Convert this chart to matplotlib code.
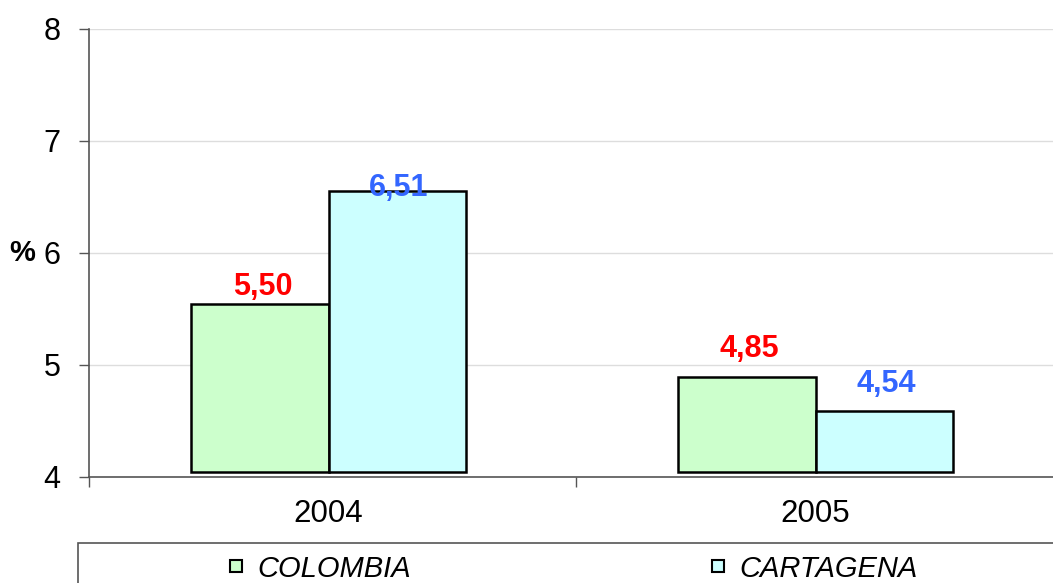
import numpy as np
import matplotlib
matplotlib.use("Agg")
import matplotlib.pyplot as plt
from matplotlib.lines import Line2D
from matplotlib.patches import Rectangle

# datos
years = ["2004", "2005"]
series = ["COLOMBIA", "CARTAGENA"]
colombia = [5.50, 4.85]
cartagena = [6.51, 4.54]
labels_colombia = ["5,50", "4,85"]
labels_cartagena = ["6,51", "4,54"]

fill_colors = ["#CCFFCC", "#CCFFFF"]
text_colors = ["#FF0000", "#3366FF"]

plt.rcParams["font.family"] = ["Liberation Sans", "DejaVu Sans"]

fig = plt.figure(figsize=(10.53, 5.83), dpi=100)
W, H = 1053, 583
ax = fig.add_axes([89 / W, 1 - 477 / H, (1063 - 89) / W, (477 - 29) / H])

x = np.arange(len(years))
width = 0.283
shift = -0.008  # Excel desplaza un poco el grupo a la izquierda
lift = 0.045    # y dibuja las barras ligeramente por encima del eje

ax.bar(x + shift - width / 2, np.array(colombia) - 4, width, bottom=4 + lift,
       color=fill_colors[0], edgecolor="black", linewidth=1.8, zorder=3)
ax.bar(x + shift + width / 2, np.array(cartagena) - 4, width, bottom=4 + lift,
       color=fill_colors[1], edgecolor="black", linewidth=1.8, zorder=3)

# etiquetas de datos (desplazamiento en puntos, como en el original)
offs_col = [1.5, 9]
offs_car = [-8.5, 9]
for i in range(len(years)):
    ax.annotate(labels_colombia[i], (x[i] + shift - width / 2, colombia[i] + lift),
                xytext=(2, offs_col[i]), textcoords="offset points",
                ha="center", va="bottom", fontsize=22, fontweight="bold",
                color=text_colors[0], zorder=4)
    ax.annotate(labels_cartagena[i], (x[i] + shift + width / 2, cartagena[i] + lift),
                xytext=(1, offs_car[i]), textcoords="offset points",
                ha="center", va="bottom", fontsize=22, fontweight="bold",
                color=text_colors[1], zorder=4)

ax.set_ylim(4, 8)
ax.set_xlim(-0.5, 1.5)
ax.set_yticks([4, 5, 6, 7, 8])
ax.set_xticks(x + shift)
ax.set_xticklabels(years)
ax.set_xticks([-0.5, 0.5, 1.5], minor=True)
ax.tick_params(axis="x", which="major", length=0, pad=16, labelsize=22.5)
ax.tick_params(axis="x", which="minor", length=7, width=1, color="#555555")
ax.tick_params(axis="y", length=7, width=1, color="#555555", pad=13.5, labelsize=22)
ax.yaxis.grid(True, color="#DDDDDD", linewidth=1, zorder=0)
ax.set_axisbelow(True)

for side in ["top", "right"]:
    ax.spines[side].set_visible(False)
for side in ["left", "bottom"]:
    ax.spines[side].set_color("#555555")
    ax.spines[side].set_linewidth(1.2)

ax.annotate("%", (0, 6), xycoords=("axes fraction", "data"),
            xytext=(-48, 0), textcoords="offset points",
            ha="center", va="center", fontsize=21, fontweight="bold")

# leyenda dibujada a mano (cortada por el borde, como en la imagen)
fig.add_artist(Rectangle((78 / W, -0.1), 1.2, 0.1 + 1 - 543 / H,
                         transform=fig.transFigure, fill=False,
                         edgecolor="#555555", linewidth=1.2, clip_on=False))
legend_pos = [236, 718]
for i, name in enumerate(series):
    fig.add_artist(Line2D([legend_pos[i] / W], [1 - 566 / H], marker="s",
                          markersize=8, markerfacecolor=fill_colors[i],
                          markeredgecolor="black", markeredgewidth=1.5,
                          linestyle="none", transform=fig.transFigure))
    fig.text((legend_pos[i] + 21) / W, 1 - 569 / H, name, fontsize=21,
             style="italic", ha="left", va="center")

fig.savefig("out.png", dpi=100)
